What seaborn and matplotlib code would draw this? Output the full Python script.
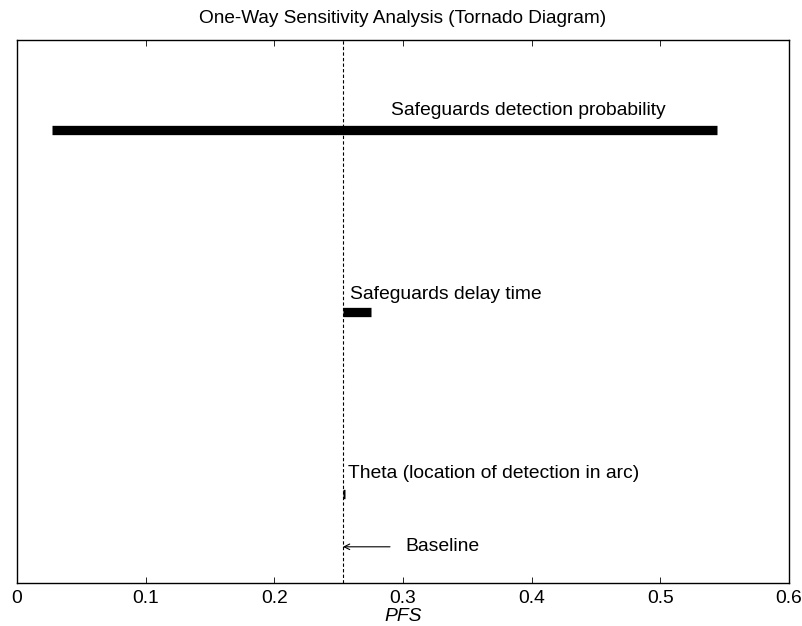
import matplotlib
matplotlib.use("Agg")
import matplotlib.pyplot as plt
import seaborn as sns
import pandas as pd

# ---- data ----
parameters = ["Safeguards detection probability", "Safeguards delay time", "Theta (location of detection in arc)"]
low_values = [0.0274, 0.2533, 0.2533]
high_values = [0.5438, 0.2749, 0.2553]
baseline = 0.2533
x_ticks = [0, 0.1, 0.2, 0.3, 0.4, 0.5, 0.6]
x_tick_labels = ["0", "0.1", "0.2", "0.3", "0.4", "0.5", "0.6"]
title = "One-Way Sensitivity Analysis (Tornado Diagram)"
xlabel = "PFS"

sns.set_style("ticks", {"axes.edgecolor": "black", "text.color": "black",
                        "xtick.color": "black", "axes.labelcolor": "black"})
plt.rcParams["font.family"] = ["Liberation Sans", "DejaVu Sans"]

FS = 13.9

fig = plt.figure(figsize=(8.03, 6.26), dpi=100)
ax = fig.add_axes([17/803, 43/626, (789-17)/803, (583-40)/626])

ypos = [3, 2, 1]
rows = []
for p, lo, hi, y in zip(parameters, low_values, high_values, ypos):
    rows.append({"param": p, "x": lo, "y": y, "order": 0})
    rows.append({"param": p, "x": hi, "y": y, "order": 1})
df = pd.DataFrame(rows)

sns.lineplot(data=df, x="x", y="y", units="param", estimator=None, sort=False,
             color="black", linewidth=6.7, solid_capstyle="butt", ax=ax, legend=False)

ax.axvline(baseline, color="black", linewidth=0.8, linestyle=(0, (3, 2)))

# labels above bars
label_x = [0.2907, 0.2588, 0.2572]
label_dy = [0.082, 0.071, 0.088]
for p, lx, y, dy in zip(parameters, label_x, ypos, label_dy):
    ax.text(lx, y + dy, p, fontsize=FS, ha="left", va="baseline", color="black")

ax.annotate("", xy=(baseline, 0.709), xytext=(0.2899, 0.709),
            arrowprops=dict(arrowstyle="->", color="black", lw=0.8, shrinkA=0, shrinkB=0))
ax.text(0.3015, 0.687, "Baseline", fontsize=FS, ha="left", va="baseline", color="black")

ax.set_xlim(0, 0.6)
ax.set_ylim(0.51, 3.495)
ax.set_xticks(x_ticks)
ax.set_xticklabels(x_tick_labels, fontsize=FS, color="black")
ax.set_yticks([])
ax.set_ylabel("")
ax.set_xlabel(xlabel, fontsize=FS, style="italic", labelpad=0.5, color="black")
ax.set_title(title, fontsize=13.7, pad=12, color="black")
ax.tick_params(axis="x", direction="in", top=True, bottom=True, length=4.5, width=0.6, pad=5, colors="black")
for s in ax.spines.values():
    s.set_linewidth(1.0)
    s.set_color("black")
    s.set_visible(True)

fig.savefig("out.png", dpi=100)
